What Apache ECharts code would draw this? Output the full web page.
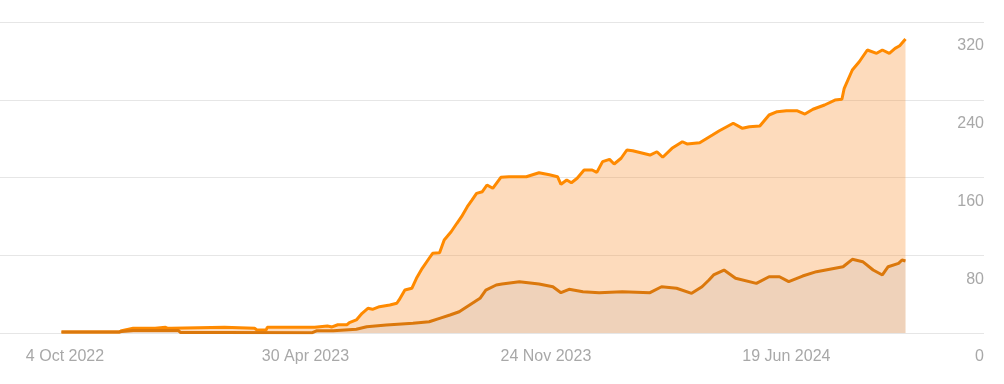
<!DOCTYPE html>
<html><head><meta charset="utf-8">
<script src="https://cdn.jsdelivr.net/npm/echarts@6/dist/echarts.min.js"></script>
<style>html,body{margin:0;padding:0;background:#fff}#c{width:1004px;height:384px}</style>
</head><body><div id="c"></div>
<script>
const totalDates = ['2022-10-01','2022-11-20','2022-11-22','2022-12-02','2022-12-21','2022-12-22','2022-12-30','2023-01-01','2023-01-04','2023-01-05','2023-02-19','2023-02-20','2023-03-17','2023-03-19','2023-03-27','2023-03-28','2023-05-08','2023-05-09','2023-05-19','2023-05-23','2023-05-28','2023-06-05','2023-06-07','2023-06-13','2023-06-18','2023-06-23','2023-06-27','2023-07-03','2023-07-12','2023-07-18','2023-07-20','2023-07-25','2023-07-31','2023-08-04','2023-08-09','2023-08-15','2023-08-18','2023-08-24','2023-08-28','2023-09-03','2023-09-08','2023-09-12','2023-09-17','2023-09-21','2023-09-25','2023-09-30','2023-10-04','2023-10-09','2023-10-16','2023-10-23','2023-11-07','2023-11-18','2023-11-27','2023-12-04','2023-12-07','2023-12-12','2023-12-16','2023-12-21','2023-12-27','2024-01-03','2024-01-07','2024-01-12','2024-01-18','2024-01-22','2024-01-28','2024-02-02','2024-02-07','2024-02-22','2024-02-28','2024-03-04','2024-03-12','2024-03-21','2024-03-25','2024-04-05','2024-04-16','2024-04-22','2024-05-04','2024-05-12','2024-05-18','2024-05-27','2024-06-04','2024-06-11','2024-06-19','2024-06-28','2024-07-05','2024-07-12','2024-07-22','2024-07-31','2024-08-06','2024-08-08','2024-08-15','2024-08-21','2024-08-28','2024-09-05','2024-09-10','2024-09-16','2024-09-21','2024-09-25','2024-09-30'];
const totalValues = [1.0,1.0,2.4,4.8,4.8,5.9,5.9,4.8,4.8,5.9,5.9,4.8,4.8,3.1,3.1,5.9,5.9,7.2,7.2,6.2,8.5,8.5,10.6,13.4,20.3,25.4,24.4,27.1,28.8,30.6,34.0,44.2,46.0,56.3,66.6,76.9,82.0,82.6,95.7,104.2,112.9,119.7,130.0,136.8,143.7,145.4,152.3,148.9,160.2,160.8,160.8,164.9,162.9,160.8,153.0,157.4,154.6,159.2,167.7,167.7,165.3,176.3,178.7,173.9,179.8,188.3,187.6,183.1,186.5,180.8,190.0,196.8,194.5,195.8,203.7,208.1,215.8,210.6,212.3,213.0,224.3,227.7,228.7,228.7,225.3,230.2,234.6,239.7,240.5,251.8,270.6,279.1,291.2,287.8,291.2,287.8,292.9,295.6,302.5];
const subsetDates = ['2022-10-01','2022-11-20','2022-11-22','2022-12-02','2023-01-10','2023-01-12','2023-02-18','2023-02-19','2023-05-06','2023-05-10','2023-05-24','2023-06-13','2023-06-22','2023-07-09','2023-08-01','2023-08-15','2023-08-24','2023-09-02','2023-09-10','2023-09-19','2023-09-28','2023-10-03','2023-10-12','2023-10-17','2023-11-01','2023-11-18','2023-11-30','2023-12-07','2023-12-14','2023-12-26','2024-01-09','2024-01-29','2024-02-22','2024-03-03','2024-03-16','2024-03-29','2024-04-07','2024-04-13','2024-04-17','2024-04-26','2024-05-06','2024-05-24','2024-06-04','2024-06-13','2024-06-21','2024-07-03','2024-07-15','2024-08-07','2024-08-15','2024-08-24','2024-09-02','2024-09-10','2024-09-15','2024-09-24','2024-09-27','2024-09-30'];
const subsetValues = [1.0,1.0,1.5,2.6,2.6,0.5,0.5,0.3,0.3,2.4,2.4,3.8,6.5,8.2,10.0,11.6,15.1,18.5,21.9,28.8,35.7,44.2,49.4,50.4,52.8,50.4,47.6,41.5,45.0,42.5,41.5,42.5,41.5,47.6,46.0,40.8,47.6,54.5,59.7,64.8,56.3,51.1,57.9,57.9,52.8,58.6,63.1,68.2,75.8,73.4,64.8,59.7,68.2,71.7,75.1,74.1];
const xTickDates = ['2022-10-04','2023-04-30','2023-11-24','2024-06-19'];
const yMin = 0, yMax = 320, yStep = 80;

const MONTHS = ['Jan','Feb','Mar','Apr','May','Jun','Jul','Aug','Sep','Oct','Nov','Dec'];
const DAY = 86400000;
const t = s => Date.parse(s);
const xMin = t('2022-10-04') - 56.2 * DAY;
const xMax = xMin + 851.1 * DAY;
const fmt = v => { const d = new Date(v); return d.getUTCDate() + ' ' + MONTHS[d.getUTCMonth()] + ' ' + d.getUTCFullYear(); };
const zip = (ds, vs) => ds.map((d, i) => [t(d), vs[i]]);
const FONT = '"Helvetica Neue", Helvetica, Arial, "Liberation Sans", sans-serif';
const LABEL = '#a8a8a8';

const chart = echarts.init(document.getElementById('c'), null, {renderer: 'canvas'});
chart.setOption({
  animation: false,
  backgroundColor: '#fff',
  grid: {left: 0, right: 20, top: 22, bottom: 51, containLabel: false},
  xAxis: {
    type: 'value', min: xMin, max: xMax,
    axisLine: {show: false}, axisTick: {show: false}, splitLine: {show: false},
    axisLabel: {customValues: xTickDates.map(t), formatter: fmt, color: LABEL, fontSize: 16, fontFamily: FONT, margin: 16}
  },
  yAxis: {
    type: 'value', position: 'right', min: yMin, max: yMax, interval: yStep,
    axisLine: {show: false}, axisTick: {show: false},
    splitLine: {lineStyle: {color: '#e6e6e6', width: 1}},
    axisLabel: {inside: true, margin: 0, verticalAlign: 'top', lineHeight: 16, padding: [16, 0, 0, 0], color: LABEL, fontSize: 16, fontFamily: FONT}
  },
  series: [
    {type: 'line', data: zip(totalDates, totalValues), showSymbol: false, symbol: 'none',
     lineStyle: {color: '#ff8a00', width: 3}, itemStyle: {color: '#ff8a00'},
     areaStyle: {color: 'rgba(250,150,60,0.34)', opacity: 1}, z: 2},
    {type: 'line', data: zip(subsetDates, subsetValues), showSymbol: false, symbol: 'none',
     lineStyle: {color: '#db780c', width: 3}, itemStyle: {color: '#db780c'},
     areaStyle: {color: 'rgba(180,170,175,0.18)', opacity: 1}, z: 3}
  ]
});
</script></body></html>
